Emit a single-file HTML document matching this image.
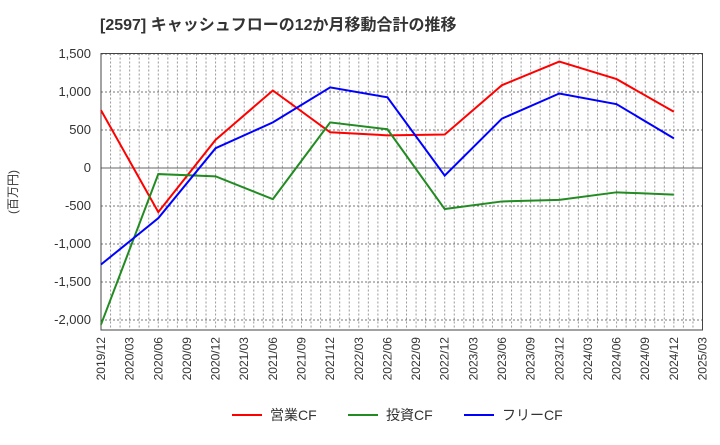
<!DOCTYPE html>
<html><head><meta charset="utf-8"><style>
body{margin:0;background:#fff;font-family:"Liberation Sans","Noto Sans CJK JP",sans-serif}
</style></head><body>
<svg width="720" height="440" viewBox="0 0 720 440" id="c">
<text x="100" y="30" font-size="16" font-weight="bold" fill="#333">[2597]  キャッシュフローの12か月移動合計の推移</text>
<text transform="translate(17,192) rotate(-90)" font-size="12" fill="#333" text-anchor="middle">(百万円)</text>
<g id="grid"></g><g id="axes"></g><g id="series"></g>
<g>
<line x1="232" y1="415" x2="262" y2="415" stroke="#f00" stroke-width="2"/><text x="270" y="420" font-size="14" fill="#333">営業CF</text>
<line x1="348" y1="415" x2="378" y2="415" stroke="#228b22" stroke-width="2"/><text x="386" y="420" font-size="14" fill="#333">投資CF</text>
<line x1="464" y1="415" x2="494" y2="415" stroke="#00f" stroke-width="2"/><text x="502" y="420" font-size="14" fill="#333">フリーCF</text>
</g>
</svg>
<script>
const xLabels=["2019/12","2020/03","2020/06","2020/09","2020/12","2021/03","2021/06","2021/09","2021/12","2022/03","2022/06","2022/09","2022/12","2023/03","2023/06","2023/09","2023/12","2024/03","2024/06","2024/09","2024/12","2025/03"];
const yTicks=[1500,1000,500,0,-500,-1000,-1500,-2000];
const pointQuarters=[0,2,4,6,8,10,12,14,16,18,20];
const operatingCF=[760,-580,370,1020,470,430,440,1090,1400,1170,740];
const investingCF=[-2060,-80,-110,-410,600,510,-540,-440,-420,-320,-350];
const freeCF=[-1270,-660,260,600,1060,930,-100,650,980,840,390];
const L=101,R=702.5,T=53.5,B=330;
const xq=q=>L+q*(R-L)/21;
const y=v=>168-v*0.076;
const NS="http://www.w3.org/2000/svg";
function mk(t,a,p){const e=document.createElementNS(NS,t);for(const k in a)e.setAttribute(k,a[k]);p.appendChild(e);return e;}
const grid=document.getElementById('grid'),axes=document.getElementById('axes'),ser=document.getElementById('series');
for(let m=1;m<63;m++){const x=L+m*(R-L)/63;
const g=mk('line',{x1:x,y1:T,x2:x,y2:B,stroke:'#999','stroke-width':1,'stroke-dasharray':'2,2'},grid);

}
yTicks.forEach(v=>{const yy=y(v);
const g=mk('line',{x1:L,y1:yy,x2:R,y2:yy,stroke:v===0?'#666':'#777','stroke-width':1,'stroke-dasharray':v===0?'':'2,2'},grid);


const t=mk('text',{x:91,y:yy+4,'font-size':13,fill:'#333','text-anchor':'end'},axes);
t.textContent=v.toLocaleString('en-US');

});
xLabels.forEach((s,i)=>{const x=xq(i);
const t=mk('text',{transform:`translate(${x+4},337) rotate(-90)`,'font-size':12,fill:'#333','text-anchor':'end'},axes);
t.textContent=s;

});
const fr=mk('rect',{x:L,y:T,width:R-L,height:B-T,fill:'none',stroke:'#444','stroke-width':1},axes);


[[operatingCF,'#f00','operating-cf-line'],[investingCF,'#228b22','investing-cf-line'],[freeCF,'#00f','free-cf-line']].forEach(([d,c,n])=>{
const p=mk('polyline',{points:d.map((v,i)=>xq(pointQuarters[i])+','+y(v)).join(' '),fill:'none',stroke:c,'stroke-width':2},ser);

});
</script>
</body></html>
